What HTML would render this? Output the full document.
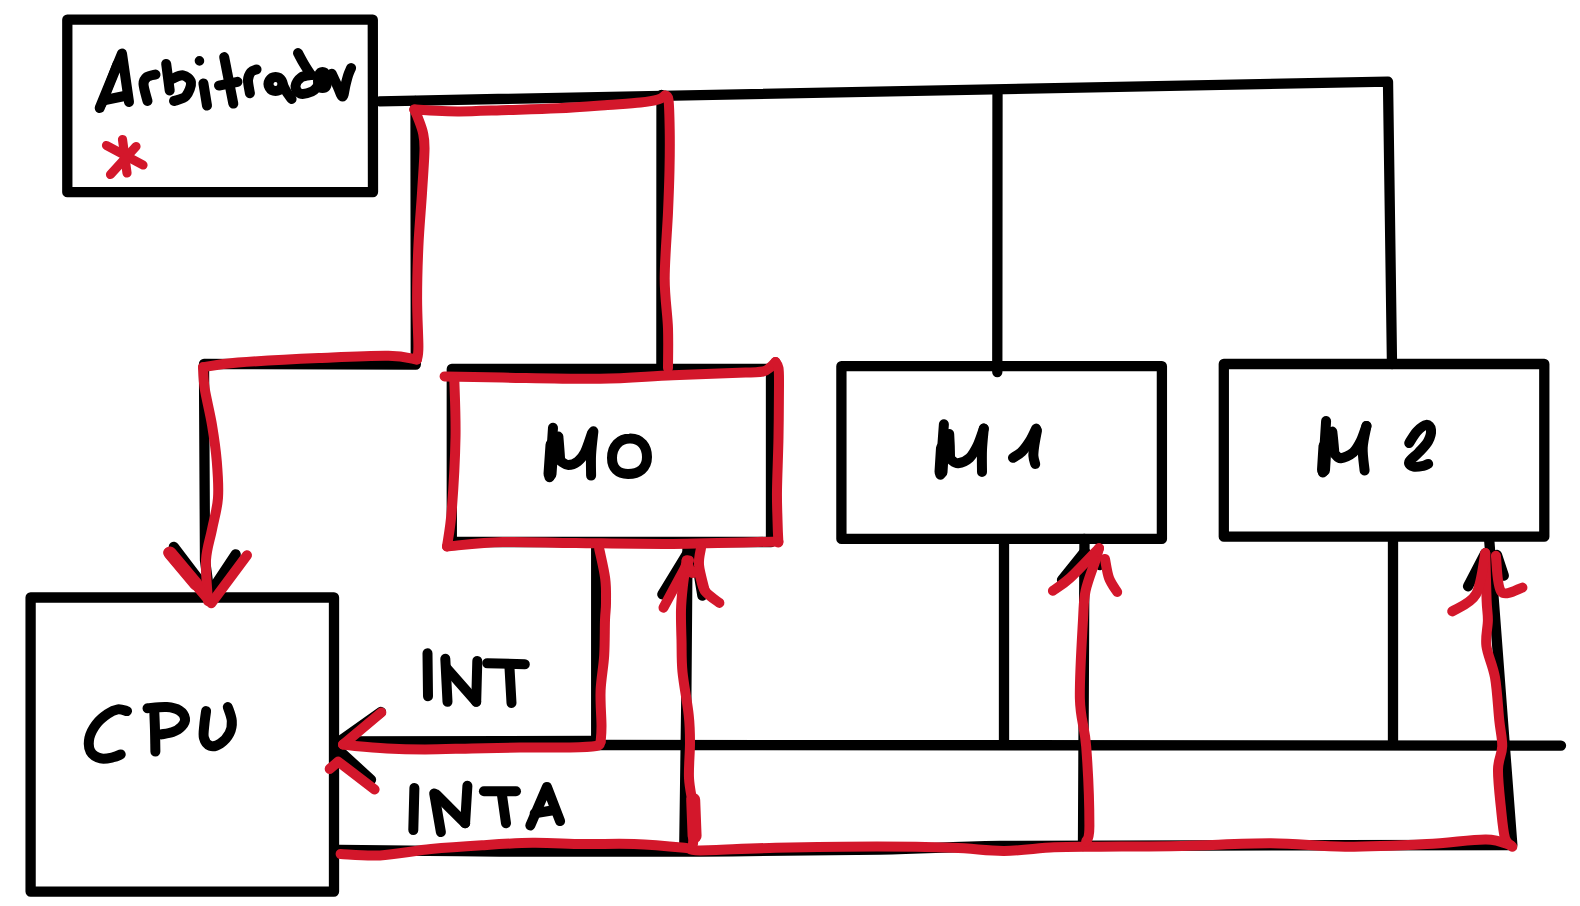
<!DOCTYPE html>
<html><head><meta charset="utf-8"><title>Arbitrador</title>
<style>
html,body{margin:0;padding:0;background:#fff;}
body{width:1580px;height:906px;overflow:hidden;font-family:"Liberation Sans",sans-serif;}
svg{display:block;}
</style></head>
<body>
<svg width="1580" height="906" viewBox="0 0 1580 906">
<rect width="1580" height="906" fill="#ffffff"/>
<g fill="none" stroke-linecap="round" stroke-linejoin="round">
<path d="M67.3 19.7 L372.8 19.7 L373 192 L67.3 192.2 Z" stroke="#000000" stroke-width="10.3"/>
<path d="M379.5 101.3 L1388 81.6 L1392 364" stroke="#000000" stroke-width="10.3"/>
<path d="M997.5 91 L997.3 372" stroke="#000000" stroke-width="10.3"/>
<path d="M661.5 95 L661.4 368" stroke="#000000" stroke-width="10.3"/>
<path d="M415.5 101 L415.8 364.5 L204 364 L205 560 L209.5 594" stroke="#000000" stroke-width="10.3"/>
<path d="M173.8 546.9 L209.5 593.8 L235.7 554.4" stroke="#000000" stroke-width="10.3"/>
<path d="M451.8 369 L771 369 L771 542 L451.8 542 Z" stroke="#000000" stroke-width="10.3"/>
<path d="M841.4 366.2 L1161.9 366.2 L1161.9 538.9 L841.4 538.9 Z" stroke="#000000" stroke-width="10.3"/>
<path d="M1223.8 364 L1544.3 364 L1544.3 536.7 L1223.8 536.7 Z" stroke="#000000" stroke-width="10.3"/>
<path d="M30.6 597.5 L334 597.5 L334 891.6 L30.6 891.6 Z" stroke="#000000" stroke-width="10.3"/>
<path d="M339.4 741.5 L596.2 741" stroke="#000000" stroke-width="10.3"/>
<path d="M596.2 745 L1561 745.6" stroke="#000000" stroke-width="10.3"/>
<path d="M339.4 741.5 L381 712" stroke="#000000" stroke-width="10.3"/>
<path d="M339.4 750.7 L371 779.8" stroke="#000000" stroke-width="10.3"/>
<path d="M596.2 546 L596.2 743" stroke="#000000" stroke-width="10.3"/>
<path d="M1004 541 L1004 743" stroke="#000000" stroke-width="10.3"/>
<path d="M1393 539 L1393 743" stroke="#000000" stroke-width="10.3"/>
<path d="M687.5 547 L686.3 700 L684.3 846" stroke="#000000" stroke-width="10.3"/>
<path d="M1084.5 539 L1083 846" stroke="#000000" stroke-width="10.3"/>
<path d="M1489.3 541 L1512.3 845" stroke="#000000" stroke-width="10.3"/>
<path d="M339 850 C365.8 850.2 439.8 851.2 500 851.5 C560.2 851.8 636.7 851.8 700 851.5 C763.3 851.2 830 850.4 880 849.5 C930 848.6 946.7 846.7 1000 846 C1053.3 845.3 1114.7 845.7 1200 845.5 C1285.3 845.3 1460 845.1 1512 845" stroke="#000000" stroke-width="10.3"/>
<path d="M662.3 594.4 L689 550.6 L695 550.6 L702.4 595.6" stroke="#000000" stroke-width="10.3"/>
<path d="M1062 580 L1084.5 552 L1100 565" stroke="#000000" stroke-width="10.3"/>
<path d="M1468 586.3 L1485.3 553.1" stroke="#000000" stroke-width="10.3"/>
<path d="M1497 555 L1503.8 575.7" stroke="#000000" stroke-width="10.3"/>
<path d="M99.7 108 L122 53.5 L129 102" stroke="#000000" stroke-width="10"/>
<path d="M105 100 L127 95.5" stroke="#000000" stroke-width="10"/>
<path d="M147.5 101 C146.8 98.2 143.6 88 143.5 84 C143.4 80 145 78.6 147 77 C149 75.4 154.1 74.9 155.5 74.5" stroke="#000000" stroke-width="10"/>
<path d="M166.2 63.9 L169.7 90.5" stroke="#000000" stroke-width="10"/>
<path d="M172 79 C173.8 78.4 179.8 74.8 183 75.4 C186.2 76 190.5 79.1 191 82.5 C191.5 85.9 188.8 92.9 186 96 C183.2 99.1 176 100.2 174 101" stroke="#000000" stroke-width="10"/>
<path d="M199.4 60.8 L199.5 60.9" stroke="#000000" stroke-width="9.5"/>
<path d="M203.4 83.4 L207 105.6" stroke="#000000" stroke-width="10"/>
<path d="M224.2 57.1 L233.3 103.6" stroke="#000000" stroke-width="10"/>
<path d="M219 85.6 L237.5 81.8" stroke="#000000" stroke-width="10"/>
<path d="M249.9 93.2 C249.6 91 247.8 83.4 248 79.9 C248.2 76.4 249.6 73.8 251 72 C252.4 70.2 255.6 69.8 256.5 69.4" stroke="#000000" stroke-width="10"/>
<path d="M275.5 77 a7 7 0 1 0 0.1 0 Z" stroke="#000000" stroke-width="10"/>
<path d="M282.5 84 C283.1 85.2 284.5 88.5 286 91 C287.5 93.5 290.7 97.7 291.6 99" stroke="#000000" stroke-width="10"/>
<path d="M298 53 C299 54.8 301.8 60.3 304 64 C306.2 67.7 309.8 73.2 311 75" stroke="#000000" stroke-width="10"/>
<path d="M311 75 C309.3 75.4 303.6 75.7 301 77.5 C298.4 79.3 295.7 83.3 295.5 86 C295.3 88.7 297.2 92.6 300 93.5 C302.8 94.4 309 92.8 312 91.5 C315 90.2 317 86.9 318 86" stroke="#000000" stroke-width="10"/>
<path d="M322.5 72 C326 72 327 77 327 81 C327 85 326 88 322.5 88 C319 88 318 85 318 81 C318 77 319 72 322.5 72 Z" stroke="#000000" stroke-width="10"/>
<path d="M331.7 73.7 C332.6 75.6 335.2 81.2 337 85 C338.8 88.8 341.1 96.5 342.5 96.5 C343.9 96.5 344.6 88.6 345.5 85 C346.4 81.4 347.3 77.8 348.2 75 C349.1 72.2 350.6 69.2 351.1 68" stroke="#000000" stroke-width="10"/>
<path d="M102 104 L117 64" stroke="#000000" stroke-width="9"/>
<path d="M553 427.7 C552.8 431.4 552.1 441.7 551.5 450 C550.9 458.3 549.8 472.8 549.5 477.3" stroke="#000000" stroke-width="10"/>
<path d="M552 445 L550 474" stroke="#000000" stroke-width="13"/>
<path d="M558.4 436.6 C558.5 438.5 559 444.2 559.3 448 C559.6 451.8 560 457.7 560.1 459.6" stroke="#000000" stroke-width="10"/>
<path d="M561 461.4 C562.2 462 565.3 464.9 568.1 464.9 C570.9 464.9 575 463.5 577.8 461.4 C580.6 459.3 582.5 457.2 584.9 452.5 C587.3 447.8 590.8 436.2 592 433" stroke="#000000" stroke-width="10"/>
<path d="M593.4 431.3 C593 435.1 591.5 446.9 591.1 454.3 C590.7 461.7 591.1 472.1 591.1 475.6" stroke="#000000" stroke-width="10"/>
<path d="M629.5 438.5 C641 438 647 447 647 457 C647 468 639 474 628 474 C618 474 612 468 612 458 C612 446 620 438.5 629.5 438.5 Z" stroke="#000000" stroke-width="10"/>
<path d="M943.9 424.2 C943.6 428.5 942.6 441.6 942 450 C941.4 458.4 940.7 470.6 940.4 474.7" stroke="#000000" stroke-width="10"/>
<path d="M942.5 448 L941 472" stroke="#000000" stroke-width="13"/>
<path d="M949.2 433.9 C949.3 435.9 949.6 441.9 949.8 446 C949.9 450.1 950 456.6 950.1 458.7" stroke="#000000" stroke-width="10"/>
<path d="M951 459.6 C952.2 460.2 955 463.5 958.1 463.2 C961.2 462.9 966.4 460.8 969.6 457.8 C972.9 454.8 975.2 450.3 977.6 445.4 C980 440.5 982.8 431.4 983.8 428.6" stroke="#000000" stroke-width="10"/>
<path d="M983.8 428.6 C983.5 432.2 982.3 442.7 982 449.9 C981.7 457.1 982 468.3 982 472" stroke="#000000" stroke-width="10"/>
<path d="M1013 457.8 C1014.5 456.8 1019.1 454.4 1021.9 451.6 C1024.7 448.8 1027.5 444.8 1029.9 441 C1032.3 437.2 1035.1 430.7 1036.1 428.6" stroke="#000000" stroke-width="10"/>
<path d="M1037 430.4 C1036.5 432.9 1034.9 441.1 1034.3 445.4 C1033.7 449.7 1033.2 452.9 1033.4 456 C1033.6 459.1 1034.9 462.7 1035.2 464" stroke="#000000" stroke-width="10"/>
<path d="M1326.1 421.1 C1325.8 425.4 1325 438.4 1324.5 447 C1324 455.6 1323.1 468.2 1322.8 472.4" stroke="#000000" stroke-width="10"/>
<path d="M1325 446 L1323.5 470" stroke="#000000" stroke-width="13"/>
<path d="M1332.3 431.6 C1332.5 433.2 1333 437.8 1333.3 441 C1333.6 444.2 1334 449 1334.2 450.6" stroke="#000000" stroke-width="10"/>
<path d="M1335.1 454.4 C1336 455 1337.8 458.5 1340.8 458.2 C1343.8 457.9 1349.9 455.4 1353.2 452.5 C1356.5 449.6 1358.6 445.5 1360.8 441.1 C1363 436.7 1365.5 428.4 1366.5 425.9" stroke="#000000" stroke-width="10"/>
<path d="M1366.5 425.9 C1365.9 429.5 1363 440.3 1362.7 447.7 C1362.4 455.1 1364.3 466.7 1364.6 470.5" stroke="#000000" stroke-width="10"/>
<path d="M1409.2 443 C1410.5 441.1 1414 434.6 1416.8 431.6 C1419.6 428.6 1423.9 425.2 1426.3 424.9 C1428.7 424.6 1430.7 427 1431 429.7 C1431.3 432.4 1430.2 437.3 1428.2 441.1 C1426.2 444.9 1421.9 449 1418.7 452.5 C1415.5 456 1410 459.6 1409.2 462 C1408.4 464.4 1411.5 466.1 1413.9 466.7 C1416.3 467.3 1421 466.3 1423.4 465.8 C1425.8 465.3 1427.4 464.2 1428.2 463.9" stroke="#000000" stroke-width="10"/>
<path d="M127 711.1 C125.5 710.8 121 708.9 117.8 709.4 C114.6 709.9 111.2 711.4 107.6 713.9 C104 716.4 99.2 720.2 96.2 724.2 C93.2 728.2 90.4 733.2 89.4 737.8 C88.5 742.3 88.6 748.1 90.5 751.5 C92.4 754.9 97 757.4 100.8 758.4 C104.6 759.4 110 757.9 113.3 757.2 C116.6 756.5 119.5 754.9 120.7 754.4" stroke="#000000" stroke-width="10"/>
<path d="M155.4 751.5 C155.3 747.9 155.2 736.6 155 730 C154.8 723.4 154.4 714.7 154.3 711.6" stroke="#000000" stroke-width="10"/>
<path d="M147.5 708.2 C150.7 708 161.5 706.7 166.8 707.1 C172.1 707.5 176.4 708.6 179.4 710.5 C182.4 712.4 184.6 715.8 185 718.5 C185.4 721.2 183.7 724.2 181.6 726.5 C179.5 728.8 175.9 730.9 172.5 732.2 C169.1 733.5 163 734 161.1 734.4" stroke="#000000" stroke-width="10"/>
<path d="M206.1 711.1 C205.8 713.3 204.8 719.8 204.4 724.2 C204 728.7 203 734.2 203.9 737.8 C204.8 741.4 207.3 744.8 210.1 745.8 C212.8 746.8 217.2 745.6 220.4 743.5 C223.6 741.4 227.6 737.1 229.5 733.3 C231.4 729.5 232.1 725.2 231.8 720.8 C231.5 716.4 228.5 709.4 227.8 707.1" stroke="#000000" stroke-width="10"/>
<path d="M427.5 653.3 L428 696.3" stroke="#000000" stroke-width="10"/>
<path d="M445.3 658.8 L447.5 701.8" stroke="#000000" stroke-width="10"/>
<path d="M446.5 668 L476.2 701.8" stroke="#000000" stroke-width="10"/>
<path d="M477.3 661 L476.2 701.8" stroke="#000000" stroke-width="10"/>
<path d="M487.2 663.2 L524.8 664.3" stroke="#000000" stroke-width="10"/>
<path d="M509.3 664.3 L511.5 703" stroke="#000000" stroke-width="10"/>
<path d="M414.4 788 L413.3 830" stroke="#000000" stroke-width="10"/>
<path d="M434.2 793.5 L440.9 832.1" stroke="#000000" stroke-width="10"/>
<path d="M436.4 794.6 L465.1 823.3" stroke="#000000" stroke-width="10"/>
<path d="M467.4 785.8 L465.1 823.3" stroke="#000000" stroke-width="10"/>
<path d="M483.9 791.3 L516 791.3" stroke="#000000" stroke-width="10"/>
<path d="M501.6 792.4 L506 823.3" stroke="#000000" stroke-width="10"/>
<path d="M530.3 825.5 L546.9 786.9 L560.1 821.1" stroke="#000000" stroke-width="10"/>
<path d="M534.7 813.4 L554.6 810" stroke="#000000" stroke-width="10"/>
<path d="M106.5 145.5 L143 165" stroke="#d3172b" stroke-width="9.2"/>
<path d="M122.5 139.5 L127 173" stroke="#d3172b" stroke-width="9.2"/>
<path d="M136 146.5 L110.5 174.5" stroke="#d3172b" stroke-width="9.2"/>
<path d="M665 95.5 C663.8 96.2 662.1 98.3 658 99.5 C653.9 100.7 648.8 101.6 640.4 102.5 C632 103.4 621.2 104 607.5 105 C593.8 106 574.6 107.5 558.1 108.3 C541.6 109.1 525.1 109.5 508.7 110 C492.2 110.5 472.5 111.4 459.4 111.5 C446.3 111.6 437.5 110.8 430 110.5 C422.5 110.2 416.9 109.7 414.3 109.5" stroke="#d3172b" stroke-width="10"/>
<path d="M665 95.5 C665.6 96.2 667.7 94.2 668.5 100 C669.3 105.8 669.5 118.3 669.7 130 C669.9 141.7 669.8 156.2 669.5 170 C669.2 183.8 668.8 194.4 668 212.5 C667.2 230.6 664.7 259.4 664.7 278.7 C664.7 298 667.5 313.4 668 328.3 C668.5 343.2 668 361.4 668 368" stroke="#d3172b" stroke-width="10"/>
<path d="M414.3 109.5 C414.9 110.9 416.6 114.1 418 118 C419.4 121.9 421.9 127.7 423 133 C424.1 138.3 424.7 140 424.5 150 C424.3 160 423 177 422 193 C421 209 419.2 228.3 418.4 246 C417.6 263.7 417.1 282.2 417.1 299 C417.1 315.8 418.4 336.5 418.4 346.6 C418.4 356.7 417.2 357.4 417 359.5" stroke="#d3172b" stroke-width="10"/>
<path d="M417 359.5 C412.2 358.9 404.8 355.9 388.5 355.7 C372.2 355.4 344.1 356.9 319 358 C293.9 359.1 257.3 361.1 238 362.6 C218.7 364.1 208.8 366.4 203 367.2" stroke="#d3172b" stroke-width="10"/>
<path d="M203 367.2 C203.3 370.8 203.2 379 204.7 388.6 C206.2 398.2 210 412.9 212 425 C214 437.1 215.8 449.3 216.8 461.5 C217.8 473.7 218.8 486.7 218 498 C217.2 509.3 214 519.2 212 529.5 C210 539.8 206.7 548.1 206 560 C205.3 571.9 207.7 594.2 208 601" stroke="#d3172b" stroke-width="10"/>
<path d="M168.2 552.5 L211.3 603.2 L247 555.3" stroke="#d3172b" stroke-width="10"/>
<path d="M170 553 L196 584" stroke="#d3172b" stroke-width="13"/>
<path d="M444.6 376.4 C454.3 376.6 476.9 377.2 502.8 377.6 C528.7 378 571.7 379.2 600 378.8 C628.3 378.4 648.5 376.2 672.8 375.2 C697.1 374.1 730.6 373.1 745.6 372.5 C760.6 371.9 758.9 372.3 763 371.5 C767.1 370.7 767.9 369.1 770 367.5 C772.1 365.9 774.6 362.9 775.5 362" stroke="#d3172b" stroke-width="10"/>
<path d="M775.5 362 C776 363 777.9 364.2 778.5 368 C779.1 371.8 779 373.5 779 385 C779 396.5 778.8 419.5 778.5 437 C778.2 454.5 777.2 476.2 777 490 C776.8 503.8 777.3 511.2 777.5 520 C777.7 528.8 778.2 538.8 778.4 542.5" stroke="#d3172b" stroke-width="10"/>
<path d="M778.4 541.5 C760.8 541.9 706.6 543.6 672.8 543.9 C639 544.1 604 543.3 575.7 543 C547.4 542.7 524.2 541.4 502.8 542 C481.4 542.6 456.3 545.7 447 546.4" stroke="#d3172b" stroke-width="10"/>
<path d="M447 546.4 C447.8 540.3 450.4 528.2 451.8 510 C453.2 491.8 455.1 459 455.5 437.1 C455.9 415.2 454.5 388.5 454.3 378.8" stroke="#d3172b" stroke-width="10"/>
<path d="M599.1 548.2 C600.1 553.3 604.1 569.5 605.2 578.6 C606.4 587.7 606 596.1 606 603 C606 609.9 605.3 611.3 605 620 C604.7 628.7 604.9 643.5 604.2 655.3 C603.5 667.1 601.1 678.8 600.6 690.6 C600.1 702.4 601.5 717.4 601.5 726 C601.5 734.6 600.8 739.3 600.6 742" stroke="#d3172b" stroke-width="10"/>
<path d="M600.6 742 C599.8 742.7 601.1 745.1 596 746 C590.9 746.9 582.7 747.2 570 747.5 C557.3 747.8 536.3 747.3 520 747.5 C503.7 747.7 487.8 748.2 472 748.5 C456.2 748.8 439.2 749.4 425 749.4 C410.8 749.4 398.7 749.1 387 748.5 C375.3 747.9 362.3 746.7 355 746 C347.7 745.3 345 744.8 343 744.5" stroke="#d3172b" stroke-width="10"/>
<path d="M381.3 712.5 L343 744.6" stroke="#d3172b" stroke-width="10"/>
<path d="M329.7 768.9 L338.2 761.6 L374.6 789.5" stroke="#d3172b" stroke-width="10"/>
<path d="M340.6 854 C347.2 854.2 364.9 856.2 380 855.4 C395.1 854.6 414 850.8 431 849.1 C448 847.4 465.1 846.3 482 845.3 C498.9 844.2 515.7 843 532.5 842.8 C549.3 842.6 566.1 843.8 583 844 C599.9 844.2 617.1 843.4 634 844 C650.9 844.6 673.4 846.7 684.4 847.8 C695.4 848.9 684.7 850.4 700 850.4 C715.3 850.4 746.5 848.4 776 847.8 C805.5 847.2 847.5 846.6 877 846.6 C906.5 846.6 931.8 847.1 953 847.8 C974.2 848.5 987.2 851 1004 850.9 C1020.8 850.8 1038 848 1054 847.3 C1070 846.6 1078.7 846.9 1100 846.7 C1121.3 846.5 1153.5 846.5 1182 845.9 C1210.5 845.3 1243.8 843.1 1271 843.2 C1298.2 843.3 1319 846.6 1345 846.7 C1371 846.8 1403.5 845.2 1427 844 C1450.5 842.8 1472 839.2 1486 839.4 C1500 839.6 1506.8 844.4 1511 845.4" stroke="#d3172b" stroke-width="10"/>
<path d="M693 844 C693.2 840.8 694 831.3 694 825 C694 818.7 693.8 813.8 693 806 C692.2 798.2 689.5 788.5 689 778 C688.5 767.5 690 753.5 690 743 C690 732.5 690 726.8 688.7 715 C687.5 703.2 683.7 684.5 682.5 672 C681.3 659.5 681.8 650.3 681.5 640 C681.2 629.7 680.8 619.2 681 610 C681.2 600.8 682.1 593.3 683 585 C683.9 576.7 686 564.5 686.6 560.4" stroke="#d3172b" stroke-width="10"/>
<path d="M693.2 800 L694.6 836" stroke="#d3172b" stroke-width="14"/>
<path d="M663.5 607.7 L689 560.4" stroke="#d3172b" stroke-width="10"/>
<path d="M686.6 560.4 C687.4 562.4 689.4 570.5 691.4 572.5 C693.4 574.5 696.5 569.5 698.7 572.5 C700.9 575.5 701.3 585.6 704.8 590.7 C708.2 595.8 717 600.9 719.4 602.9" stroke="#d3172b" stroke-width="10"/>
<path d="M701 548 C700.7 550.8 698.4 557.9 699 565 C699.6 572.1 703.8 586.4 704.8 590.7" stroke="#d3172b" stroke-width="10"/>
<path d="M1086.2 841.5 C1086.7 838.9 1089.4 841.5 1089.4 825.7 C1089.4 809.9 1087.8 767.7 1086.2 746.6 C1084.6 725.5 1080.4 720.1 1079.9 699 C1079.4 677.9 1082 638 1083 620 C1084 602 1083.5 600.6 1085.6 590.7 C1087.7 580.8 1093.2 567.5 1095.4 560.4 C1097.6 553.3 1098.4 550.2 1099 548.2" stroke="#d3172b" stroke-width="10"/>
<path d="M1052.9 590.7 C1055.8 588.6 1062.3 585.1 1070 578 C1077.7 570.9 1094.2 553.2 1099 548.2" stroke="#d3172b" stroke-width="10"/>
<path d="M1105 559 C1105.7 562.2 1107 572.5 1109 578 C1111 583.5 1115.8 589.7 1117.2 592" stroke="#d3172b" stroke-width="10"/>
<path d="M1512.3 846.8 C1511.1 845.4 1506.9 844.9 1505 838.2 C1503.1 831.5 1502 818.1 1500.8 806.6 C1499.6 795.1 1497.8 779.3 1498 769.3 C1498.2 759.2 1502 754.4 1502.2 746.3 C1502.4 738.2 1500.5 732 1499.3 720.5 C1498.1 709 1497.2 689.9 1495 677.4 C1492.8 664.9 1487.6 655.4 1486.4 645.8 C1485.2 636.2 1487.9 627.6 1487.9 620 C1487.9 612.4 1487 611.1 1486.6 600 C1486.2 588.9 1485.5 560.9 1485.3 553.1" stroke="#d3172b" stroke-width="10"/>
<path d="M1452.2 611.4 C1456.2 608.5 1470.5 603.9 1476 594.2 C1481.5 584.5 1483.8 560 1485.3 553.1" stroke="#d3172b" stroke-width="10"/>
<path d="M1495.9 555.8 C1496.8 561.8 1496.8 586.3 1501.2 591.6 C1505.6 596.9 1518.9 588.3 1522.4 587.6" stroke="#d3172b" stroke-width="10"/>
</g>
</svg>
</body></html>
